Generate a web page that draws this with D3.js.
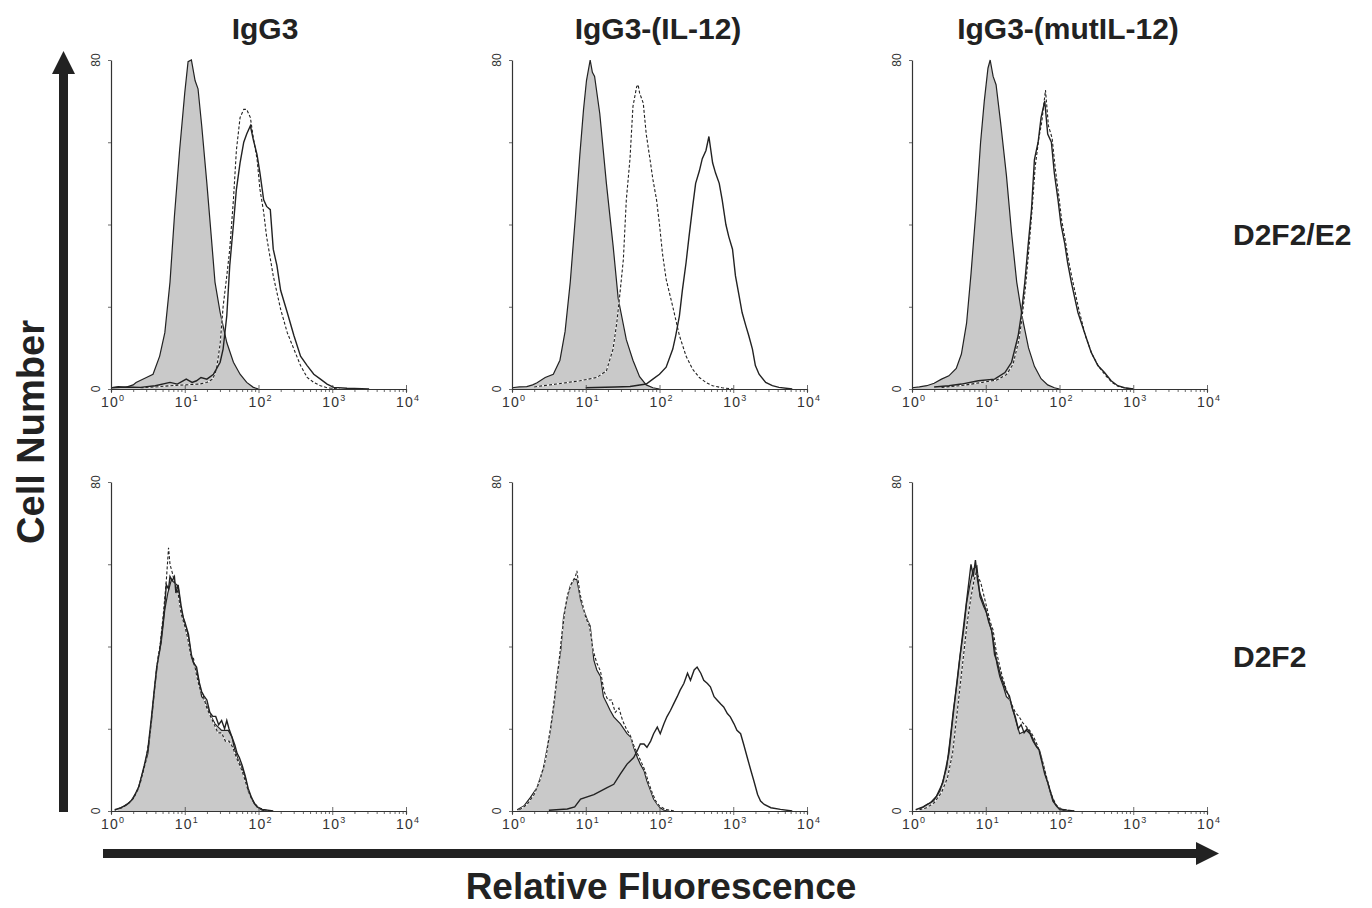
<!DOCTYPE html>
<html><head><meta charset="utf-8">
<script src="https://cdn.jsdelivr.net/npm/d3@7"></script>
<style>
html,body{margin:0;padding:0;background:#fff;}
svg{display:block;font-family:"Liberation Sans",Arial,Helvetica,sans-serif;}
</style></head>
<body><svg id="chart" width="1372" height="908"></svg>
<script>
// ---------- DATA (x = log10 fluorescence, y = cell number) ----------
const columnTitles = ["IgG3", "IgG3-(IL-12)", "IgG3-(mutIL-12)"];
const rowLabels = ["D2F2/E2", "D2F2"];
const xDecades = [1, 10, 100, 1000, 10000];
const xDecadeSup = ["0", "1", "2", "3", "4"];
const yTickValues = [0, 20, 40, 60, 80];
const yTickLabels = {0: "0", 80: "80"};
const axisLabelY = "Cell Number";
const axisLabelX = "Relative Fluorescence";

// Row 1 (D2F2/E2), col 1 (IgG3)
const greyA = [[0,0.3],[0.1,0.6],[0.2,0.4],[0.3,1.0],[0.34,1.6],[0.48,2.8],[0.57,3.6],[0.66,8],[0.73,13.7],[0.80,26],[0.86,42],[0.93,58],[1.0,72],[1.045,79.6],[1.09,80],[1.14,75],[1.18,73],[1.23,64],[1.30,50],[1.36,37],[1.41,26],[1.48,18.6],[1.57,11.3],[1.66,6.5],[1.75,3.6],[1.84,1.6],[1.93,0.4],[2.0,0]];
const solidA = [[0,0.3],[0.2,0.5],[0.4,0.4],[0.6,0.8],[0.8,1.6],[0.9,1.2],[1.02,2.4],[1.1,1.6],[1.16,2],[1.22,2.8],[1.30,2.4],[1.39,3.6],[1.48,6.5],[1.52,9.7],[1.57,17.8],[1.61,30],[1.66,40],[1.70,48.5],[1.75,55],[1.80,60],[1.84,62],[1.89,64],[1.93,60.6],[1.98,57],[2.02,52.5],[2.07,46],[2.11,44.4],[2.16,43.6],[2.2,34],[2.25,30],[2.30,24],[2.39,18.6],[2.48,13],[2.57,8],[2.66,5.7],[2.75,3.6],[2.84,2.4],[2.93,1.2],[3.02,0.4],[3.2,0.2],[3.5,0]];
const dashedA = [[0.4,0.3],[0.6,0.5],[0.8,0.8],[1.0,1.0],[1.2,1.2],[1.3,1.6],[1.38,2.4],[1.43,4.8],[1.48,11],[1.52,20],[1.57,27.5],[1.61,34],[1.66,46],[1.70,58],[1.75,66],[1.80,68],[1.84,68],[1.89,66],[1.93,61],[1.98,56],[2.02,48.5],[2.07,43],[2.11,37],[2.2,27.5],[2.30,19.4],[2.39,13.7],[2.48,9.7],[2.57,5.7],[2.66,2.8],[2.75,1.6],[2.84,0.8],[2.93,0.3],[3.1,0]];

// Row 1, col 2 (IgG3-(IL-12))
const greyB = [[0,0.3],[0.1,0.5],[0.2,0.6],[0.28,1.0],[0.34,1.5],[0.45,2.8],[0.56,3.6],[0.65,7],[0.72,14],[0.79,26],[0.86,42],[0.92,57],[0.97,68],[1.01,75],[1.06,80],[1.09,77],[1.12,76],[1.19,67],[1.28,50],[1.37,35],[1.44,22],[1.55,12],[1.64,7],[1.73,3],[1.82,1],[1.91,0.3],[2.0,0]];
const solidB = [[1.0,0.3],[1.4,0.5],[1.6,0.6],[1.82,1.2],[1.91,2.4],[2.0,3.6],[2.09,5.3],[2.18,9.7],[2.22,13],[2.27,17.8],[2.31,24],[2.36,30.7],[2.40,37],[2.45,44.4],[2.49,50],[2.54,53],[2.58,56],[2.63,58],[2.67,61.4],[2.72,55],[2.76,52.5],[2.81,50],[2.85,46],[2.90,40],[2.94,37],[2.99,34],[3.03,27.5],[3.08,22.6],[3.12,18.6],[3.17,15.4],[3.21,13],[3.26,9.7],[3.30,5.7],[3.35,3.6],[3.44,1.6],[3.53,0.8],[3.62,0.4],[3.8,0]];
const dashedB = [[0.3,0.5],[0.6,1.2],[0.92,2],[1.15,2.8],[1.28,4.4],[1.37,9.7],[1.42,16],[1.46,22.6],[1.51,31.5],[1.55,46],[1.60,56],[1.64,68.7],[1.69,73.5],[1.71,74],[1.73,72],[1.78,69.5],[1.82,62],[1.87,56],[1.91,51],[1.96,46],[2.0,40],[2.04,33],[2.09,26.7],[2.18,20],[2.27,13],[2.36,8],[2.45,4.8],[2.54,2.8],[2.63,1.6],[2.72,0.8],[2.85,0.3],[3.0,0]];

// Row 1, col 3 (IgG3-(mutIL-12))
const greyC = [[0,0.3],[0.1,0.5],[0.2,0.8],[0.3,1.4],[0.4,2.4],[0.5,3.2],[0.6,5],[0.67,8.5],[0.74,16],[0.8,28],[0.87,44],[0.93,60],[0.98,70],[1.03,78],[1.06,80],[1.10,76],[1.14,74],[1.2,65],[1.28,52],[1.35,38],[1.42,26],[1.5,17],[1.58,10],[1.66,5.5],[1.75,2.5],[1.84,1],[1.93,0.3],[2.0,0]];
const solidC = [[0.3,0.5],[0.5,0.8],[0.67,1.2],[0.9,2],[1.12,2.4],[1.26,4],[1.35,6.5],[1.44,13],[1.48,17.8],[1.53,26],[1.57,34],[1.62,43.6],[1.66,55.8],[1.71,60],[1.75,66],[1.80,70],[1.84,62],[1.89,60],[1.93,52.5],[1.98,46],[2.02,40],[2.07,35.5],[2.11,30.7],[2.16,26],[2.25,18.6],[2.34,13.7],[2.43,8.9],[2.52,5.7],[2.61,4],[2.70,2],[2.79,0.8],[2.88,0.3],[3.0,0]];
const dashedC = [[0.4,0.4],[0.7,0.9],[0.95,1.6],[1.15,2.2],[1.28,3.5],[1.37,6],[1.45,12],[1.49,17],[1.54,25],[1.58,33],[1.63,44],[1.67,54],[1.72,61],[1.76,65],[1.81,72.7],[1.85,64],[1.90,61],[1.94,54],[1.99,47],[2.03,41],[2.08,36],[2.12,31.5],[2.17,27],[2.26,19.5],[2.35,13],[2.44,8.5],[2.53,5.5],[2.62,3.4],[2.71,1.6],[2.80,0.6],[2.9,0.2],[3.0,0]];

// Row 2 (D2F2), col 1
const greyD = [[0.09,0.4],[0.18,1.2],[0.27,2.4],[0.36,5],[0.45,10.6],[0.5,14],[0.55,22],[0.59,29.4],[0.64,37.5],[0.68,40.8],[0.73,49],[0.77,53],[0.82,56.3],[0.86,55.5],[0.91,54.7],[0.95,49],[1.0,45.7],[1.05,42.4],[1.09,37.5],[1.14,35],[1.18,32.7],[1.23,27.8],[1.27,27],[1.32,24.5],[1.36,22.9],[1.41,21.2],[1.5,19.6],[1.59,19.6],[1.64,18],[1.68,14.7],[1.73,12.2],[1.77,10.6],[1.82,8.2],[1.86,4.9],[1.91,2.9],[1.95,1.6],[2.0,0.8],[2.05,0.2],[2.1,0]];
const solidD = [[0.05,0.3],[0.14,0.8],[0.22,1.6],[0.3,3],[0.38,6],[0.45,11],[0.5,15],[0.55,23],[0.59,30],[0.62,35],[0.66,39],[0.7,45],[0.73,50],[0.75,55],[0.78,54],[0.8,57],[0.83,56],[0.86,57],[0.88,53],[0.91,55],[0.95,50],[0.98,47],[1.0,46],[1.05,43],[1.09,38],[1.12,36],[1.16,35],[1.2,31],[1.23,29],[1.26,28],[1.3,27],[1.34,24],[1.38,23],[1.42,23],[1.46,21],[1.5,22],[1.54,20],[1.57,22],[1.6,20],[1.64,18],[1.68,16],[1.71,14],[1.74,13],[1.78,11],[1.82,8.5],[1.86,5.5],[1.9,3.5],[1.94,2],[1.98,1],[2.05,0.4],[2.2,0]];
const dashedD = [[0.05,0.2],[0.15,0.8],[0.24,1.8],[0.32,3.5],[0.4,7],[0.47,12],[0.53,19],[0.58,28],[0.62,35],[0.67,41],[0.71,48],[0.75,56],[0.78,64],[0.8,60],[0.83,58],[0.87,55],[0.91,53],[0.95,48],[1.0,45],[1.04,42],[1.08,38],[1.12,37],[1.16,33],[1.2,30],[1.25,28],[1.3,25],[1.35,23],[1.4,21],[1.45,19],[1.5,19],[1.55,17],[1.6,17],[1.65,15.5],[1.7,13],[1.75,11],[1.8,8.5],[1.85,5.5],[1.9,3.2],[1.95,1.8],[2.0,0.8],[2.1,0.2],[2.2,0]];

// Row 2, col 2
const greyE = [[0.07,0.3],[0.16,1.2],[0.25,3.3],[0.34,5.7],[0.43,10.6],[0.52,19.6],[0.57,26],[0.61,32.7],[0.66,39],[0.70,47.3],[0.75,52],[0.79,54.7],[0.84,56.3],[0.88,56.3],[0.93,51.4],[0.97,49],[1.02,46.5],[1.06,45],[1.11,36.7],[1.15,34.3],[1.20,32.7],[1.24,27.8],[1.29,26],[1.33,24.5],[1.38,22.9],[1.47,21.2],[1.56,18.8],[1.61,18],[1.65,15.5],[1.70,13],[1.74,11.4],[1.79,9.8],[1.83,7.3],[1.88,4.9],[1.92,2.9],[1.97,1.6],[2.01,0.8],[2.06,0.2],[2.15,0]];
const solidE = [[0.5,0.2],[0.75,0.5],[0.85,1.0],[0.93,2.9],[1.11,4],[1.29,5.7],[1.38,6.5],[1.47,9],[1.56,11.4],[1.65,13],[1.70,14.7],[1.74,16.3],[1.79,16.3],[1.83,15.5],[1.88,17],[1.92,18.8],[1.97,20.4],[2.01,18.8],[2.06,21.2],[2.10,22.9],[2.15,24.5],[2.19,26],[2.24,27.8],[2.28,29.4],[2.33,31],[2.38,33.5],[2.42,31.8],[2.47,34.3],[2.51,35],[2.56,33.5],[2.60,31.8],[2.65,31],[2.69,30.2],[2.74,27.8],[2.78,27],[2.83,26],[2.87,25.3],[2.92,23.7],[2.96,22.9],[3.01,21.2],[3.05,19.6],[3.10,18.8],[3.14,16.3],[3.19,13],[3.24,9.8],[3.28,7.3],[3.33,4],[3.37,2.4],[3.42,1.6],[3.51,0.8],[3.64,0.4],[3.8,0]];
const dashedE = [[0.1,0.3],[0.2,1.5],[0.3,4],[0.38,7.5],[0.46,13],[0.53,21],[0.58,28],[0.63,35],[0.67,42],[0.72,49],[0.76,53],[0.81,55.5],[0.86,57],[0.88,58.4],[0.92,53],[0.96,50],[1.0,47],[1.05,45],[1.1,39],[1.15,36],[1.2,34],[1.25,29],[1.3,27],[1.35,27],[1.4,24],[1.45,25],[1.5,22],[1.55,20],[1.6,18.5],[1.65,16],[1.7,14],[1.75,12],[1.8,10],[1.85,7],[1.9,4.5],[1.95,2.4],[2.0,1.2],[2.08,0.4],[2.2,0]];

// Row 2, col 3
const greyF = [[0.11,0.4],[0.2,1.6],[0.29,2.4],[0.38,4.9],[0.47,10.6],[0.52,18],[0.56,24.5],[0.61,31],[0.65,37.5],[0.70,44],[0.74,50.6],[0.79,55.5],[0.83,58.8],[0.88,59.6],[0.92,52.2],[0.97,49.8],[1.01,48.2],[1.06,45],[1.10,42.4],[1.15,35.9],[1.19,32.7],[1.24,30.2],[1.28,27.8],[1.33,27],[1.37,24.5],[1.42,21.2],[1.46,18.8],[1.55,19.6],[1.60,18.8],[1.64,17],[1.69,15.5],[1.73,14.7],[1.78,11.4],[1.82,8.2],[1.87,4.9],[1.91,2.4],[1.96,1.2],[2.0,0.4],[2.1,0]];
const solidF = [[0.05,0.3],[0.15,1],[0.25,2],[0.33,3.5],[0.42,7],[0.5,14],[0.55,22],[0.6,30],[0.64,36],[0.68,42],[0.72,48],[0.76,54],[0.8,60],[0.83,57],[0.86,61],[0.89,56],[0.92,53],[0.96,51],[1.0,49],[1.04,46],[1.08,44],[1.12,38],[1.16,36],[1.2,33],[1.24,31],[1.28,29],[1.32,28],[1.36,25],[1.4,23],[1.44,20],[1.48,21],[1.52,19],[1.56,20],[1.6,19],[1.64,17.5],[1.68,16],[1.72,15],[1.76,12],[1.8,9],[1.84,7],[1.88,4.5],[1.92,2.4],[1.96,1.2],[2.0,0.5],[2.1,0.2],[2.2,0]];
const dashedF = [[0.1,0.3],[0.2,0.8],[0.3,2],[0.4,4.5],[0.48,8],[0.55,14],[0.6,22],[0.65,30],[0.7,38],[0.75,46],[0.8,52],[0.84,56],[0.87,58],[0.9,57],[0.94,55],[0.98,52],[1.02,49],[1.06,46],[1.1,44],[1.14,39],[1.18,36],[1.22,33],[1.27,30],[1.31,28],[1.35,26],[1.4,24],[1.45,23],[1.5,21.5],[1.55,20.5],[1.6,19.5],[1.65,18],[1.7,16],[1.75,13],[1.8,10],[1.85,6.5],[1.9,3.5],[1.95,1.6],[2.0,0.6],[2.1,0.2],[2.2,0]];

const panels = [
  {row:0, col:0, grey:greyA, solid:solidA, dashed:dashedA},
  {row:0, col:1, grey:greyB, solid:solidB, dashed:dashedB},
  {row:0, col:2, grey:greyC, solid:solidC, dashed:dashedC},
  {row:1, col:0, grey:greyD, solid:solidD, dashed:dashedD},
  {row:1, col:1, grey:greyE, solid:solidE, dashed:dashedE},
  {row:1, col:2, grey:greyF, solid:solidF, dashed:dashedF}
];

// ---------- LAYOUT ----------
const svg = d3.select("#chart");
const colX = [111, 512, 912];
const rowTop = [60, 482];
const pw = 295, ph = 329;
const ink = "#222";

panels.forEach(p => {
  const x0 = colX[p.col], y0 = rowTop[p.row];
  const x = d3.scaleLog().domain([1, 10000]).range([x0, x0 + pw]);
  const y = d3.scaleLinear().domain([0, 80]).range([y0 + ph, y0]);
  const g = svg.append("g");
  const xv = d => x(Math.pow(10, d[0]));
  const area = d3.area().x(xv).y0(y(0)).y1(d => y(d[1]));
  const line = d3.line().x(xv).y(d => y(d[1]));

  g.append("path").datum(p.grey).attr("d", area).attr("fill", "#c9c9c9").attr("stroke", "none");
  g.append("path").datum(p.grey).attr("d", line).attr("fill", "none").attr("stroke", ink).attr("stroke-width", 1.2);
  g.append("path").datum(p.dashed).attr("d", line).attr("fill", "none").attr("stroke", "#fff").attr("stroke-width", 1.1);
  g.append("path").datum(p.dashed).attr("d", line).attr("fill", "none").attr("stroke", ink).attr("stroke-width", 1.1).attr("stroke-dasharray", "3,2");
  g.append("path").datum(p.solid).attr("d", line).attr("fill", "none").attr("stroke", ink).attr("stroke-width", 1.4);

  // x axis: minor ticks
  const minor = [];
  for (let k = 0; k < 4; k++) for (let m = 2; m <= 9; m++) minor.push(m * Math.pow(10, k));
  const gx = g.append("g").attr("transform", `translate(0,${y(0)})`);
  gx.call(d3.axisBottom(x).tickValues(minor).tickSize(3).tickFormat(""));
  gx.append("g").call(d3.axisBottom(x).tickValues(xDecades).tickSizeInner(4).tickSizeOuter(0).tickFormat(""));
  gx.selectAll(".domain").attr("stroke", "#333").attr("stroke-width", 1.2);
  gx.selectAll(".tick line").attr("stroke", "#444").attr("stroke-width", 0.8);
  gx.selectAll(".tick").filter(d => xDecades.includes(d)).select("line").attr("y1", -4);

  xDecades.forEach((v, i) => {
    const t = g.append("text").attr("x", x(v) - 10).attr("y", y(0) + 18)
      .attr("font-size", 14).attr("fill", "#333").attr("letter-spacing", 1.2);
    t.append("tspan").text("10");
    t.append("tspan").attr("dy", -6).attr("font-size", 9).attr("letter-spacing", 0).text(xDecadeSup[i]);
  });

  // y axis
  const gy = g.append("g").attr("transform", `translate(${x0},0)`);
  gy.call(d3.axisLeft(y).tickValues(yTickValues).tickSizeInner(3).tickSizeOuter(0).tickFormat(""));
  gy.selectAll(".domain").attr("stroke", "#333").attr("stroke-width", 1.2);
  gy.selectAll(".tick line").attr("stroke", "#444").attr("stroke-width", 0.8);
  Object.keys(yTickLabels).forEach(k => {
    const yy = y(+k);
    g.append("text").attr("transform", `translate(${x0 - 11},${yy}) rotate(-90)`)
      .attr("text-anchor", "middle").attr("font-size", 12).attr("fill", "#333")
      .text(yTickLabels[k]);
  });
});

// column titles
const titleX = [265, 658, 1068];
columnTitles.forEach((t, i) => {
  svg.append("text").attr("x", titleX[i]).attr("y", 39).attr("text-anchor", "middle")
    .attr("font-size", 30).attr("font-weight", "bold").attr("fill", ink).text(t);
});
// row labels
const rowLabelY = [245, 667];
rowLabels.forEach((t, i) => {
  svg.append("text").attr("x", 1233).attr("y", rowLabelY[i])
    .attr("font-size", 30).attr("font-weight", "bold").attr("fill", ink).text(t);
});

// axis arrows
svg.append("rect").attr("x", 59).attr("y", 72).attr("width", 9).attr("height", 740).attr("fill", ink);
svg.append("path").attr("d", "M52,74 L75,74 L63.5,51 Z").attr("fill", ink);
svg.append("rect").attr("x", 103).attr("y", 849).attr("width", 1095).attr("height", 9).attr("fill", ink);
svg.append("path").attr("d", "M1196,842 L1196,865 L1219,853.5 Z").attr("fill", ink);

svg.append("text").attr("transform", "translate(44,432) rotate(-90)").attr("text-anchor", "middle")
  .attr("font-size", 38).attr("font-weight", "bold").attr("fill", ink).text(axisLabelY);
svg.append("text").attr("x", 661).attr("y", 899).attr("text-anchor", "middle")
  .attr("font-size", 37).attr("font-weight", "bold").attr("fill", ink).text(axisLabelX);
</script></body></html>
